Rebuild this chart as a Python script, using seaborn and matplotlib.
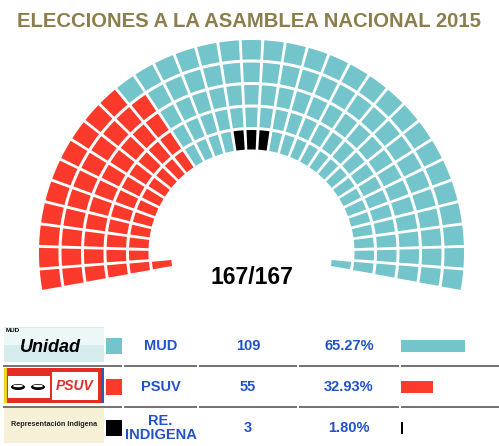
import numpy as np
import pandas as pd
import seaborn as sns
import matplotlib.pyplot as plt
from matplotlib.patches import Wedge, Rectangle, Ellipse

# --- data ---
parties = ['MUD', 'PSUV', 'RE. INDIGENA']
labels = ['MUD', 'PSUV', 'RE.\nINDIGENA']
seats = [109, 55, 3]
pcts = [65.27, 32.93, 1.80]
colors = ['#74c5cb', '#fb3a2b', '#000000']

# seats per ring (outer -> inner); last ring only has one seat at each end
ring_seats = [33, 33, 33, 33, 33, 2]
psuv_per_ring = [10, 11, 11, 11, 11, 1]
indig_per_ring = [0, 0, 0, 0, 3, 0]

W, H = 499, 446
sns.set_theme(style='white')
plt.rcParams['font.family'] = ['Liberation Sans', 'DejaVu Sans']

fig = plt.figure(figsize=(W / 100, H / 100), dpi=100)
ax = fig.add_axes([0, 0, 1, 1])
ax.set_xlim(0, W)
ax.set_ylim(0, H)
ax.axis('off')


def py(y):
    return H - y


# --- hemicycle ---
cx, cy = 251.5, py(252.5)
r_outer = [212.5, 190, 167.5, 145, 122.5, 100]
ring_w = 19.5
n_spokes = 33
start, end = 187.5, -7.5
step = (start - end) / (n_spokes - 1)
gap = 2.8

for ring, n in enumerate(ring_seats):
    if n == n_spokes:
        spokes = list(range(n_spokes))
    else:
        spokes = [0, n_spokes - 1]
    n_red = psuv_per_ring[ring]
    n_blk = indig_per_ring[ring]
    mid = n_spokes // 2
    blk = set(range(mid - n_blk // 2, mid - n_blk // 2 + n_blk)) if n_blk else set()
    r_mid = r_outer[ring] - ring_w / 2
    g = np.degrees(gap / 2 / r_mid)
    for i, k in enumerate(spokes):
        if i < n_red:
            c = colors[1]
        elif k in blk:
            c = colors[2]
        else:
            c = colors[0]
        th = start - k * step
        ax.add_patch(Wedge((cx, cy), r_outer[ring], th - step / 2 + g, th + step / 2 - g,
                           width=ring_w, facecolor=c, edgecolor='none'))

ax.text(cx, py(277), f'{sum(seats)}/{sum(seats)}', ha='center', va='center',
        fontsize=16.5, fontweight='bold', color='black')

ax.text(W / 2, py(21.5), 'ELECCIONES A LA ASAMBLEA NACIONAL 2015', ha='center', va='center',
        fontsize=14.6, fontweight='bold', color='#8c7d4c')

# --- table ---
row_y = [346, 387, 428]
blue = '#2152c9'

# logos (simplified)
ax.add_patch(Rectangle((4, py(362)), 100, 35, facecolor='#d6eced', edgecolor='none'))
ax.add_patch(Rectangle((4, py(345)), 100, 17, facecolor='#eef7f7', edgecolor='none'))
ax.text(6, py(331), 'MUD', fontsize=4.5, fontweight='bold', va='center', color='black')
ax.text(50, py(347), 'Unidad', fontsize=13, fontweight='bold', style='italic',
        ha='center', va='center', color='black')
ax.add_patch(Rectangle((4, py(403)), 100, 35, facecolor='#e32d25', edgecolor='none'))
ax.add_patch(Rectangle((4, py(403)), 3, 35, facecolor='#f4d21c', edgecolor='none'))
ax.add_patch(Rectangle((101, py(403)), 3, 35, facecolor='#2a5fb0', edgecolor='none'))
ax.add_patch(Rectangle((8, py(398)), 42, 22, facecolor='white', edgecolor='none'))
for ex in [18, 38]:
    ax.add_patch(Ellipse((ex, py(387)), 14, 6, facecolor='black', edgecolor='none'))
    ax.add_patch(Ellipse((ex, py(386)), 10, 2.5, facecolor='white', edgecolor='none'))
ax.add_patch(Rectangle((52, py(400)), 46, 28, facecolor='white', edgecolor='none'))
ax.text(75, py(386), 'PSUV', fontsize=10, fontweight='bold', style='italic',
        ha='center', va='center', color='#e32d25')
ax.add_patch(Rectangle((4, py(443)), 100, 35, facecolor='#f6f1d6', edgecolor='none'))
ax.text(54, py(425), 'Representación Indigena', fontsize=5.2, fontweight='bold',
        ha='center', va='center', color='#222222')

for y, c in zip(row_y, colors):
    ax.add_patch(Rectangle((106, py(y + 8)), 16, 16, facecolor=c, edgecolor='none'))

for y, lab, s, p in zip(row_y, labels, seats, pcts):
    ax.text(160.5, py(y), lab, ha='center', va='center', fontsize=10.5,
            fontweight='bold', color=blue, linespacing=0.95)
    ax.text(248, py(y), str(s), ha='center', va='center', fontsize=10.5,
            fontweight='bold', color=blue)
    ax.text(349, py(y), f'{p:.2f}%', ha='center', va='center', fontsize=10.5,
            fontweight='bold', color=blue)

for ly in [365.5, 406.5]:
    for x0, x1 in [(3, 122), (124, 197), (199, 297), (299, 399), (401, 499)]:
        ax.plot([x0, x1], [py(ly), py(ly)], color='#5a5a5a', lw=1.2, solid_capstyle='butt')

# percentage bars
pitch = row_y[1] - row_y[0]
top = row_y[0] - pitch / 2
bottom = row_y[-1] + pitch / 2
bax = fig.add_axes([401 / W, 1 - bottom / H, 98 / W, (bottom - top) / H])
df = pd.DataFrame({'party': parties, 'pct': pcts})
sns.barplot(data=df, y='party', x='pct', hue='party', palette=colors, orient='h',
            width=12 / pitch, linewidth=0, saturation=1, legend=False, ax=bax)
bax.set_xlim(0, 100)
bax.set_ylim(len(parties) - 0.5, -0.5)
bax.axis('off')

fig.savefig('out.png', dpi=100)
